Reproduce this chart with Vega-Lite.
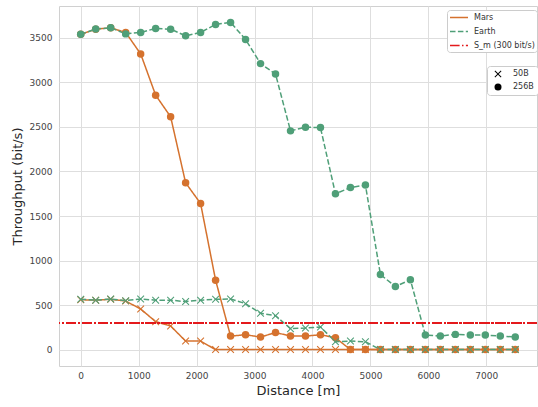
{
  "$schema": "https://vega.github.io/schema/vega-lite/v6.json",
  "width": 478,
  "height": 360,
  "autosize": {"type": "none"},
  "padding": {"left": 59, "top": 6, "right": 1, "bottom": 41},
  "background": "white",
  "config": {
    "font": "DejaVu Sans",
    "view": {"stroke": "#d0d0d0", "strokeWidth": 1},
    "axis": {
      "grid": true, "gridColor": "#dedede", "gridWidth": 1,
      "domain": false, "ticks": false,
      "labelFont": "DejaVu Sans", "labelFontSize": 9, "labelColor": "#444444",
      "titleFont": "DejaVu Sans", "titleFontSize": 13, "titleFontWeight": "normal", "titleColor": "#262626"
    },
    "legend": {"labelFont": "DejaVu Sans", "labelFontSize": 8, "labelColor": "#333333"}
  },
  "data": {"values": [
    {"planet":"Mars","size":"256B","distance":0,"throughput":3540},
    {"planet":"Mars","size":"256B","distance":258.6,"throughput":3598},
    {"planet":"Mars","size":"256B","distance":517.2,"throughput":3613},
    {"planet":"Mars","size":"256B","distance":775.9,"throughput":3561},
    {"planet":"Mars","size":"256B","distance":1034.5,"throughput":3320},
    {"planet":"Mars","size":"256B","distance":1293.1,"throughput":2857},
    {"planet":"Mars","size":"256B","distance":1551.7,"throughput":2614},
    {"planet":"Mars","size":"256B","distance":1810.3,"throughput":1873},
    {"planet":"Mars","size":"256B","distance":2069.0,"throughput":1640},
    {"planet":"Mars","size":"256B","distance":2327.6,"throughput":780},
    {"planet":"Mars","size":"256B","distance":2586.2,"throughput":152},
    {"planet":"Mars","size":"256B","distance":2844.8,"throughput":167},
    {"planet":"Mars","size":"256B","distance":3103.4,"throughput":141},
    {"planet":"Mars","size":"256B","distance":3362.1,"throughput":192},
    {"planet":"Mars","size":"256B","distance":3620.7,"throughput":152},
    {"planet":"Mars","size":"256B","distance":3879.3,"throughput":152},
    {"planet":"Mars","size":"256B","distance":4137.9,"throughput":167},
    {"planet":"Mars","size":"256B","distance":4396.6,"throughput":133},
    {"planet":"Mars","size":"256B","distance":4655.2,"throughput":0},
    {"planet":"Mars","size":"256B","distance":4913.8,"throughput":0},
    {"planet":"Mars","size":"256B","distance":5172.4,"throughput":0},
    {"planet":"Mars","size":"256B","distance":5431.0,"throughput":0},
    {"planet":"Mars","size":"256B","distance":5689.7,"throughput":0},
    {"planet":"Mars","size":"256B","distance":5948.3,"throughput":0},
    {"planet":"Mars","size":"256B","distance":6206.9,"throughput":0},
    {"planet":"Mars","size":"256B","distance":6465.5,"throughput":0},
    {"planet":"Mars","size":"256B","distance":6724.1,"throughput":0},
    {"planet":"Mars","size":"256B","distance":6982.8,"throughput":0},
    {"planet":"Mars","size":"256B","distance":7241.4,"throughput":0},
    {"planet":"Mars","size":"256B","distance":7500,"throughput":0},
    {"planet":"Mars","size":"50B","distance":0,"throughput":560},
    {"planet":"Mars","size":"50B","distance":258.6,"throughput":555},
    {"planet":"Mars","size":"50B","distance":517.2,"throughput":565},
    {"planet":"Mars","size":"50B","distance":775.9,"throughput":545},
    {"planet":"Mars","size":"50B","distance":1034.5,"throughput":456},
    {"planet":"Mars","size":"50B","distance":1293.1,"throughput":314},
    {"planet":"Mars","size":"50B","distance":1551.7,"throughput":265},
    {"planet":"Mars","size":"50B","distance":1810.3,"throughput":96},
    {"planet":"Mars","size":"50B","distance":2069.0,"throughput":96},
    {"planet":"Mars","size":"50B","distance":2327.6,"throughput":0},
    {"planet":"Mars","size":"50B","distance":2586.2,"throughput":0},
    {"planet":"Mars","size":"50B","distance":2844.8,"throughput":0},
    {"planet":"Mars","size":"50B","distance":3103.4,"throughput":0},
    {"planet":"Mars","size":"50B","distance":3362.1,"throughput":0},
    {"planet":"Mars","size":"50B","distance":3620.7,"throughput":0},
    {"planet":"Mars","size":"50B","distance":3879.3,"throughput":0},
    {"planet":"Mars","size":"50B","distance":4137.9,"throughput":0},
    {"planet":"Mars","size":"50B","distance":4396.6,"throughput":0},
    {"planet":"Mars","size":"50B","distance":4655.2,"throughput":0},
    {"planet":"Mars","size":"50B","distance":4913.8,"throughput":0},
    {"planet":"Mars","size":"50B","distance":5172.4,"throughput":0},
    {"planet":"Mars","size":"50B","distance":5431.0,"throughput":0},
    {"planet":"Mars","size":"50B","distance":5689.7,"throughput":0},
    {"planet":"Mars","size":"50B","distance":5948.3,"throughput":0},
    {"planet":"Mars","size":"50B","distance":6206.9,"throughput":0},
    {"planet":"Mars","size":"50B","distance":6465.5,"throughput":0},
    {"planet":"Mars","size":"50B","distance":6724.1,"throughput":0},
    {"planet":"Mars","size":"50B","distance":6982.8,"throughput":0},
    {"planet":"Mars","size":"50B","distance":7241.4,"throughput":0},
    {"planet":"Mars","size":"50B","distance":7500,"throughput":0},
    {"planet":"Earth","size":"256B","distance":0,"throughput":3540},
    {"planet":"Earth","size":"256B","distance":258.6,"throughput":3600},
    {"planet":"Earth","size":"256B","distance":517.2,"throughput":3613},
    {"planet":"Earth","size":"256B","distance":775.9,"throughput":3545},
    {"planet":"Earth","size":"256B","distance":1034.5,"throughput":3561},
    {"planet":"Earth","size":"256B","distance":1293.1,"throughput":3606},
    {"planet":"Earth","size":"256B","distance":1551.7,"throughput":3598},
    {"planet":"Earth","size":"256B","distance":1810.3,"throughput":3523},
    {"planet":"Earth","size":"256B","distance":2069.0,"throughput":3561},
    {"planet":"Earth","size":"256B","distance":2327.6,"throughput":3651},
    {"planet":"Earth","size":"256B","distance":2586.2,"throughput":3674},
    {"planet":"Earth","size":"256B","distance":2844.8,"throughput":3482},
    {"planet":"Earth","size":"256B","distance":3103.4,"throughput":3211},
    {"planet":"Earth","size":"256B","distance":3362.1,"throughput":3094},
    {"planet":"Earth","size":"256B","distance":3620.7,"throughput":2456},
    {"planet":"Earth","size":"256B","distance":3879.3,"throughput":2497},
    {"planet":"Earth","size":"256B","distance":4137.9,"throughput":2493},
    {"planet":"Earth","size":"256B","distance":4396.6,"throughput":1749},
    {"planet":"Earth","size":"256B","distance":4655.2,"throughput":1820},
    {"planet":"Earth","size":"256B","distance":4913.8,"throughput":1847},
    {"planet":"Earth","size":"256B","distance":5172.4,"throughput":843},
    {"planet":"Earth","size":"256B","distance":5431.0,"throughput":708},
    {"planet":"Earth","size":"256B","distance":5689.7,"throughput":784},
    {"planet":"Earth","size":"256B","distance":5948.3,"throughput":163},
    {"planet":"Earth","size":"256B","distance":6206.9,"throughput":152},
    {"planet":"Earth","size":"256B","distance":6465.5,"throughput":171},
    {"planet":"Earth","size":"256B","distance":6724.1,"throughput":163},
    {"planet":"Earth","size":"256B","distance":6982.8,"throughput":163},
    {"planet":"Earth","size":"256B","distance":7241.4,"throughput":152},
    {"planet":"Earth","size":"256B","distance":7500,"throughput":141},
    {"planet":"Earth","size":"50B","distance":0,"throughput":565},
    {"planet":"Earth","size":"50B","distance":258.6,"throughput":555},
    {"planet":"Earth","size":"50B","distance":517.2,"throughput":568},
    {"planet":"Earth","size":"50B","distance":775.9,"throughput":550},
    {"planet":"Earth","size":"50B","distance":1034.5,"throughput":569},
    {"planet":"Earth","size":"50B","distance":1293.1,"throughput":555},
    {"planet":"Earth","size":"50B","distance":1551.7,"throughput":555},
    {"planet":"Earth","size":"50B","distance":1810.3,"throughput":539},
    {"planet":"Earth","size":"50B","distance":2069.0,"throughput":555},
    {"planet":"Earth","size":"50B","distance":2327.6,"throughput":565},
    {"planet":"Earth","size":"50B","distance":2586.2,"throughput":569},
    {"planet":"Earth","size":"50B","distance":2844.8,"throughput":516},
    {"planet":"Earth","size":"50B","distance":3103.4,"throughput":408},
    {"planet":"Earth","size":"50B","distance":3362.1,"throughput":381},
    {"planet":"Earth","size":"50B","distance":3620.7,"throughput":235},
    {"planet":"Earth","size":"50B","distance":3879.3,"throughput":242},
    {"planet":"Earth","size":"50B","distance":4137.9,"throughput":254},
    {"planet":"Earth","size":"50B","distance":4396.6,"throughput":88},
    {"planet":"Earth","size":"50B","distance":4655.2,"throughput":96},
    {"planet":"Earth","size":"50B","distance":4913.8,"throughput":88},
    {"planet":"Earth","size":"50B","distance":5172.4,"throughput":0},
    {"planet":"Earth","size":"50B","distance":5431.0,"throughput":0},
    {"planet":"Earth","size":"50B","distance":5689.7,"throughput":0},
    {"planet":"Earth","size":"50B","distance":5948.3,"throughput":0},
    {"planet":"Earth","size":"50B","distance":6206.9,"throughput":0},
    {"planet":"Earth","size":"50B","distance":6465.5,"throughput":0},
    {"planet":"Earth","size":"50B","distance":6724.1,"throughput":0},
    {"planet":"Earth","size":"50B","distance":6982.8,"throughput":0},
    {"planet":"Earth","size":"50B","distance":7241.4,"throughput":0},
    {"planet":"Earth","size":"50B","distance":7500,"throughput":0}
  ]},
  "layer": [
    {
      "mark": {"type": "line", "strokeWidth": 1.5},
      "encoding": {
        "x": {"field": "distance", "type": "quantitative",
              "scale": {"domain": [-375, 7875], "nice": false, "zero": false},
              "axis": {"values": [0,1000,2000,3000,4000,5000,6000,7000], "format": "d", "title": "Distance [m]", "labelPadding": 5, "titlePadding": 4}},
        "y": {"field": "throughput", "type": "quantitative",
              "scale": {"domain": [-184, 3858], "nice": false, "zero": false},
              "axis": {"values": [0,500,1000,1500,2000,2500,3000,3500], "format": "d", "title": "Throughput (bit/s)", "labelPadding": 7, "titlePadding": 5}},
        "color": {"field": "planet", "type": "nominal",
                  "scale": {"domain": ["Mars", "Earth", "S_m (300 bit/s)"], "range": ["#d5722e", "#4f9f78", "#e31a1c"]},
                  "legend": {"title": null, "orient": "none", "legendX": 388, "legendY": 4,
                             "symbolType": "M-1,0L3,0", "symbolSize": 81, "symbolStrokeWidth": 1.5,
                             "labelOffset": 14, "padding": 2, "rowPadding": 4,
                             "fillColor": "white", "strokeColor": "#cccccc", "cornerRadius": 3}},
        "strokeDash": {"field": "planet", "type": "nominal",
                       "scale": {"domain": ["Mars", "Earth", "S_m (300 bit/s)"], "range": [[1, 0], [5.5, 2.4], [9.6, 2.4, 1.5, 2.4]]},
                       "legend": {"title": null}},
        "detail": {"field": "size", "type": "nominal"}
      }
    },
    {
      "mark": {"type": "point", "filled": true, "opacity": 1, "size": 56},
      "encoding": {
        "x": {"field": "distance", "type": "quantitative"},
        "y": {"field": "throughput", "type": "quantitative"},
        "color": {"field": "planet", "type": "nominal"},
        "shape": {"field": "size", "type": "nominal",
                  "scale": {"domain": ["50B", "256B"], "range": ["M-1,-0.8L-0.8,-1L0,-0.2L0.8,-1L1,-0.8L0.2,0L1,0.8L0.8,1L0,0.2L-0.8,1L-1,0.8L-0.2,0Z", "circle"]},
                  "legend": {"title": null, "orient": "none", "legendX": 428, "legendY": 60,
                             "symbolSize": 49, "symbolFillColor": "black", "symbolStrokeColor": "black", "symbolStrokeWidth": 0,
                             "symbolOffset": 3, "labelOffset": 11, "padding": 4, "rowPadding": 5,
                             "fillColor": "white", "strokeColor": "#cccccc", "cornerRadius": 3}}
      }
    },
    {
      "mark": {"type": "rule", "strokeWidth": 1.5},
      "encoding": {
        "y": {"datum": 300},
        "color": {"datum": "S_m (300 bit/s)"},
        "strokeDash": {"datum": "S_m (300 bit/s)"}
      }
    }
  ]
}
